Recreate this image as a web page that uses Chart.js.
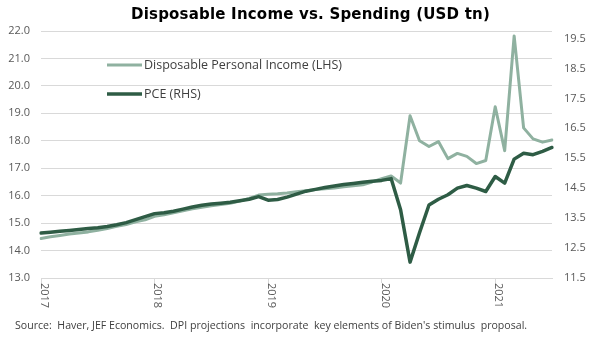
<!DOCTYPE html>
<html><head><meta charset="utf-8">
<script src="https://cdn.jsdelivr.net/npm/chart.js@4.4.0/dist/chart.umd.min.js"></script>
<style>
html,body{margin:0;padding:0;background:#fff;}
#wrap{position:relative;width:597px;height:355px;overflow:hidden;}
canvas{position:absolute;left:0;top:0;}
#title{position:absolute;left:12px;width:597px;top:5px;text-align:center;font:bold 15px "DejaVu Sans";color:#000;letter-spacing:0.2px;}
#src{position:absolute;left:15px;top:318px;font:10.6px "Open Sans";color:#404040;white-space:pre;}
</style></head><body>
<div id="wrap">
<canvas id="c" width="597" height="355"></canvas>
<div id="title">Disposable Income vs. Spending (USD tn)</div>
<div id="src">Source:  Haver, JEF Economics.  DPI projections  incorporate  key elements of Biden's stimulus  proposal.</div>
</div>
<script>
const months = [
 '2017-01','2017-02','2017-03','2017-04','2017-05','2017-06','2017-07','2017-08','2017-09','2017-10','2017-11','2017-12',
 '2018-01','2018-02','2018-03','2018-04','2018-05','2018-06','2018-07','2018-08','2018-09','2018-10','2018-11','2018-12',
 '2019-01','2019-02','2019-03','2019-04','2019-05','2019-06','2019-07','2019-08','2019-09','2019-10','2019-11','2019-12',
 '2020-01','2020-02','2020-03','2020-04','2020-05','2020-06','2020-07','2020-08','2020-09','2020-10','2020-11','2020-12',
 '2021-01','2021-02','2021-03','2021-04','2021-05','2021-06','2021-07'];
const yearTicks = ['2017-01','2018-01','2019-01','2020-01','2021-01'];
const yearTickLabels = ['2017','2018','2019','2020','2021'];
const dpiLabel = 'Disposable Personal Income (LHS)';
const pceLabel = 'PCE (RHS)';
// Disposable personal income, USD tn (left axis)
const dpi = [14.44,14.50,14.55,14.60,14.64,14.68,14.74,14.80,14.88,14.95,15.05,15.12,
 15.25,15.30,15.38,15.45,15.52,15.58,15.63,15.68,15.72,15.80,15.90,16.02,
 16.05,16.07,16.10,16.14,16.18,16.22,16.25,16.28,16.32,16.36,16.40,16.50,
 16.62,16.72,16.46,18.91,18.00,17.79,17.97,17.35,17.54,17.43,17.17,17.28,
 19.24,17.64,21.82,18.47,18.07,17.95,18.03];
// Personal consumption expenditures, USD tn (right axis)
const pce = [13.00,13.03,13.06,13.09,13.12,13.15,13.18,13.22,13.28,13.35,13.45,13.55,
 13.65,13.68,13.73,13.80,13.87,13.93,13.97,14.00,14.03,14.08,14.13,14.22,
 14.10,14.12,14.20,14.30,14.40,14.46,14.52,14.57,14.62,14.66,14.70,14.73,
 14.76,14.82,13.78,12.03,13.01,13.94,14.13,14.28,14.50,14.59,14.50,14.39,
 14.89,14.67,15.47,15.67,15.62,15.73,15.86];
const leftTicks = [13,14,15,16,17,18,19,20,21,22];
const rightTicks = [11.5,12.5,13.5,14.5,15.5,16.5,17.5,18.5,19.5];

const dpiColor = '#8fb1a0';
const pceColor = '#2e5c45';
const tickColor = '#595959';
const gridColor = '#d9d9d9';

const yearLabelPlugin = {
  id: 'yearLabels',
  afterDraw(chart) {
    const ctx = chart.ctx, xs = chart.scales.x;
    ctx.save();
    ctx.font = '11px "Open Sans"';
    ctx.fillStyle = tickColor;
    ctx.textAlign = 'left';
    ctx.textBaseline = 'middle';
    months.forEach((m, i) => {
      const k = yearTicks.indexOf(m);
      if (k < 0) return;
      const px = xs.getPixelForValue(i);
      ctx.save();
      ctx.translate(px + 3, chart.chartArea.bottom + 5);
      ctx.rotate(Math.PI / 2);
      ctx.fillText(yearTickLabels[k], 0, 0);
      ctx.restore();
    });
    ctx.restore();
  }
};

const legendPlugin = {
  id: 'innerLegend',
  afterDraw(chart) {
    const ctx = chart.ctx;
    const rows = [{label: dpiLabel, color: dpiColor, y: 65, w: 3}, {label: pceLabel, color: pceColor, y: 94, w: 3.5}];
    ctx.save();
    ctx.font = '12.5px "Open Sans"';
    ctx.textBaseline = 'middle';
    ctx.textAlign = 'left';
    rows.forEach(r => {
      ctx.strokeStyle = r.color;
      ctx.lineWidth = r.w;
      ctx.beginPath();
      ctx.moveTo(107, r.y);
      ctx.lineTo(142, r.y);
      ctx.stroke();
      ctx.fillStyle = '#404040';
      ctx.fillText(r.label, 144, r.y);
    });
    ctx.restore();
  }
};

new Chart(document.getElementById('c'), {
  type: 'line',
  data: {
    labels: months,
    datasets: [
      {label: dpiLabel, data: dpi, yAxisID: 'y', borderColor: dpiColor, borderWidth: 3,
       pointRadius: 0, tension: 0, borderJoinStyle: 'round', borderCapStyle: 'round', order: 2},
      {label: pceLabel, data: pce, yAxisID: 'y2', borderColor: pceColor, borderWidth: 3.5,
       pointRadius: 0, tension: 0, borderJoinStyle: 'round', borderCapStyle: 'round', order: 1}
    ]
  },
  options: {
    responsive: false,
    animation: false,
    layout: {padding: {top: 31, left: 0, right: 0, bottom: 0}},
    plugins: {legend: {display: false}, title: {display: false}, tooltip: {enabled: false}},
    scales: {
      x: {
        type: 'category',
        offset: false,
        ticks: {display: false, autoSkip: false},
        grid: {display: true, drawOnChartArea: false, drawTicks: true, tickLength: 5,
               color: c => (c.index % 12 === 0 ? gridColor : 'rgba(0,0,0,0)'), lineWidth: 1},
        border: {display: true, color: gridColor, width: 1},
        afterFit: s => { s.height = 77; }
      },
      y: {
        position: 'left',
        min: 13, max: 22,
        afterBuildTicks: s => { s.ticks = leftTicks.map(v => ({value: v})); },
        ticks: {color: tickColor, font: {family: 'Open Sans', size: 11}, padding: 11,
                callback: v => Number(v).toFixed(1)},
        grid: {color: gridColor, lineWidth: 1, drawTicks: false},
        border: {display: false},
        afterFit: s => { s.width = 41; }
      },
      y2: {
        position: 'right',
        min: 11.5, max: 19.75,
        afterBuildTicks: s => { s.ticks = rightTicks.map(v => ({value: v})); },
        ticks: {color: tickColor, font: {family: 'Open Sans', size: 11}, padding: 12,
                callback: v => Number(v).toFixed(1)},
        grid: {display: false, drawTicks: false},
        border: {display: false},
        afterFit: s => { s.width = 45; }
      }
    }
  },
  plugins: [yearLabelPlugin, legendPlugin]
});
</script>
</body></html>
